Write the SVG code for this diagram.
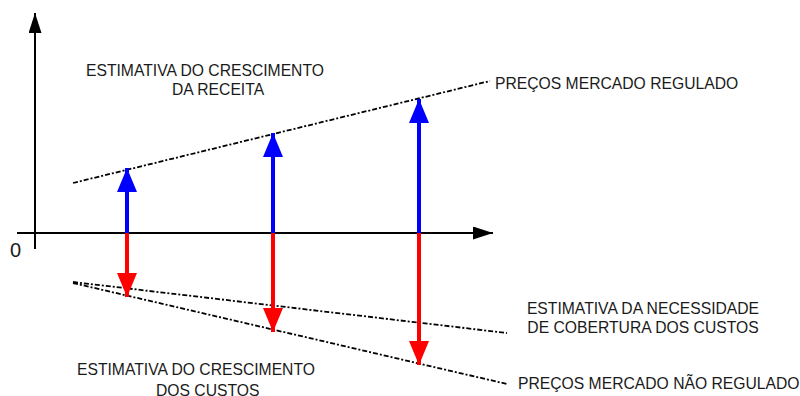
<svg xmlns="http://www.w3.org/2000/svg" width="800" height="396" viewBox="0 0 800 396">
<style>
text{font-family:"Liberation Sans",Arial,sans-serif;font-size:15.7px;fill:#1a1a1a}
.axis{stroke:#000;stroke-width:2;fill:none}
.dash{stroke:#000;stroke-width:1.8;fill:none;stroke-dasharray:5 2 2 2}
.up{stroke:#0000ff;stroke-width:4;fill:none}
.down{stroke:#ff0000;stroke-width:4;fill:none}
</style>
<defs>
<marker id="axHead" viewBox="0 0 20 13" markerWidth="20" markerHeight="13" markerUnits="userSpaceOnUse" refX="20" refY="6.5" orient="auto"><path d="M0,0 L20,6.5 L0,13 z" fill="#000"/></marker>
<marker id="blueHead" viewBox="0 0 24 20" markerWidth="24" markerHeight="20" markerUnits="userSpaceOnUse" refX="24" refY="10" orient="auto"><path d="M0,0 L24,10 L0,20 z" fill="#0000ff"/></marker>
<marker id="redHead" viewBox="0 0 24 20" markerWidth="24" markerHeight="20" markerUnits="userSpaceOnUse" refX="24" refY="10" orient="auto"><path d="M0,0 L24,10 L0,20 z" fill="#ff0000"/></marker>
</defs>
<rect width="800" height="396" fill="#fff"/>
<g id="connectors">
<line class="axis" x1="35" y1="249" x2="35" y2="13" marker-end="url(#axHead)"/>
<line class="axis" x1="17" y1="233" x2="493" y2="233" marker-end="url(#axHead)"/>
<line class="dash" x1="73" y1="183" x2="490" y2="81"/>
<line class="dash" x1="73" y1="282" x2="507" y2="333"/>
<line class="dash" x1="73" y1="283" x2="507" y2="384"/>
<line class="up" x1="127" y1="233" x2="127" y2="168" marker-end="url(#blueHead)"/>
<line class="up" x1="273" y1="233" x2="273" y2="133" marker-end="url(#blueHead)"/>
<line class="up" x1="419" y1="233" x2="419" y2="99" marker-end="url(#blueHead)"/>
<line class="down" x1="127" y1="233" x2="127" y2="297" marker-end="url(#redHead)"/>
<line class="down" x1="273" y1="233" x2="273" y2="332" marker-end="url(#redHead)"/>
<line class="down" x1="419" y1="233" x2="419" y2="365" marker-end="url(#redHead)"/>
</g>
<g id="origin"><text x="10" y="257" style="font-size:20px">0</text></g>
<g id="receita"><text x="86" y="75.5">ESTIMATIVA DO CRESCIMENTO</text><text x="172" y="95">DA RECEITA</text></g>
<g id="regulado"><text x="495" y="89">PREÇOS MERCADO REGULADO</text></g>
<g id="cobertura"><text x="643" y="313.5" text-anchor="middle">ESTIMATIVA DA NECESSIDADE</text><text x="643" y="333" text-anchor="middle">DE COBERTURA DOS CUSTOS</text></g>
<g id="naoregulado"><text x="518" y="389">PREÇOS MERCADO NÃO REGULADO</text></g>
<g id="custos"><text x="77" y="375">ESTIMATIVA DO CRESCIMENTO</text><text x="156" y="396">DOS CUSTOS</text></g>
</svg>
